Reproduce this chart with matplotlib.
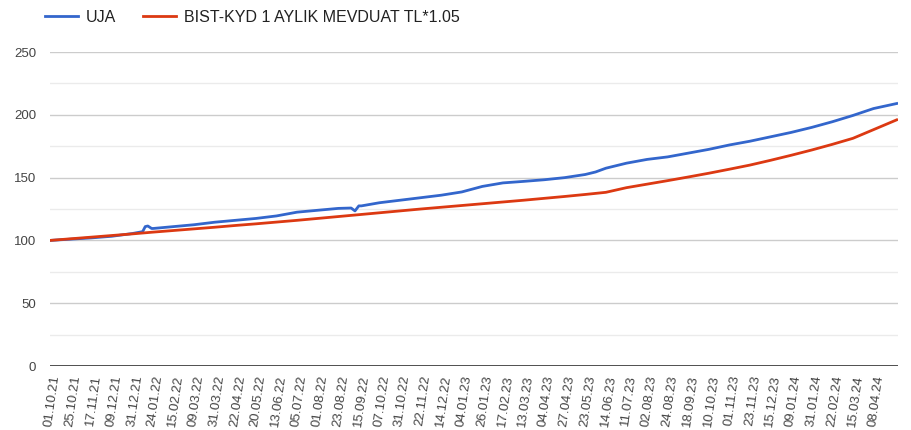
import matplotlib.pyplot as plt
from matplotlib.ticker import MultipleLocator

plt.rcParams['font.family'] = ['Liberation Sans', 'DejaVu Sans']

# tick labels, one every 16 trading days
tick_labels = ['01.10.21', '25.10.21', '17.11.21', '09.12.21', '31.12.21', '24.01.22', '15.02.22',
               '09.03.22', '31.03.22', '22.04.22', '20.05.22', '13.06.22', '05.07.22', '01.08.22',
               '23.08.22', '15.09.22', '07.10.22', '31.10.22', '22.11.22', '14.12.22', '04.01.23',
               '26.01.23', '17.02.23', '13.03.23', '04.04.23', '27.04.23', '23.05.23', '14.06.23',
               '11.07.23', '02.08.23', '24.08.23', '18.09.23', '10.10.23', '01.11.23', '23.11.23',
               '15.12.23', '09.01.24', '31.01.24', '22.02.24', '15.03.24', '08.04.24']
tick_step = 16

# trading-day index of each sample
uja_day = [0, 16, 32, 48, 64, 72, 74, 76, 79, 80, 96, 112, 128, 144, 160, 176, 192, 208, 224, 234,
           237, 240, 242, 256, 272, 288, 304, 320, 336, 352, 368, 384, 400, 416, 424, 432, 448,
           464, 480, 496, 512, 528, 544, 560, 576, 592, 608, 624, 640, 658]
uja = [100, 101.0, 102.0, 103.3, 105.5, 107, 111, 111.5, 109.5, 109.5, 111, 112.5, 114.5, 116,
       117.5, 119.5, 122.5, 124.0, 125.5, 125.8, 123.5, 127.5, 127.5, 130, 132, 134, 136, 138.6,
       143, 145.8, 147, 148.3, 150, 152.5, 154.5, 157.5, 161.5, 164.5, 166.5, 169.5, 172.5, 176,
       179, 182.5, 186, 190, 194.5, 199.5, 205, 209]

bist_day = [0, 16, 32, 48, 64, 80, 96, 112, 128, 144, 160, 176, 192, 208, 224, 240, 256, 272,
            288, 304, 320, 336, 352, 368, 384, 400, 416, 432, 448, 464, 480, 496, 512, 528, 544,
            560, 576, 592, 608, 624, 640, 658]
bist = [100, 101.3, 102.6, 103.9, 105.2, 106.6, 107.9, 109.2, 110.5, 111.9, 113.2, 114.6, 116.0,
        117.5, 119.0, 120.5, 122.0, 123.5, 125.0, 126.4, 127.8, 129.2, 130.6, 132.0, 133.5, 135.0,
        136.6, 138.3, 142.0, 144.8, 147.6, 150.5, 153.5, 156.7, 160.0, 163.8, 167.8, 172.0, 176.5,
        181.3, 188.2, 196.0]

fig = plt.figure(figsize=(9.11, 4.30), dpi=100)
ax = fig.add_axes([0.0549, 0.1488, 0.9308, 0.7302])

ax.plot(uja_day, uja, color='#3366cc', lw=2, label='UJA', zorder=3)
ax.plot(bist_day, bist, color='#dc3912', lw=2, label='BIST-KYD 1 AYLIK MEVDUAT TL*1.05', zorder=4)

ax.set_xlim(0, 659)
ax.set_ylim(0, 250)
ax.yaxis.set_major_locator(MultipleLocator(50))
ax.yaxis.set_minor_locator(MultipleLocator(25))
ax.grid(which='major', axis='y', color='#cccccc', lw=1)
ax.grid(which='minor', axis='y', color='#ebebeb', lw=1)
ax.axhline(0, color='#333333', lw=1.2, zorder=5)

ax.set_xticks([i * tick_step for i in range(len(tick_labels))])
ax.set_xticklabels(tick_labels, rotation=82, ha='right', va='top', rotation_mode='anchor',
                   fontsize=9.5, color='#444444')
ax.tick_params(axis='x', length=0, pad=6)
ax.tick_params(axis='y', which='both', length=0, pad=10, labelsize=9.5, labelcolor='#444444')

for s in ax.spines.values():
    s.set_visible(False)

fig.legend(loc='center left', bbox_to_anchor=(0.049, 0.96), ncol=2, frameon=False,
           fontsize=11.5, handlelength=2.1, columnspacing=1.7, handletextpad=0.45,
           borderpad=0, borderaxespad=0, labelcolor='#222222')

fig.savefig('out.png', dpi=100)
